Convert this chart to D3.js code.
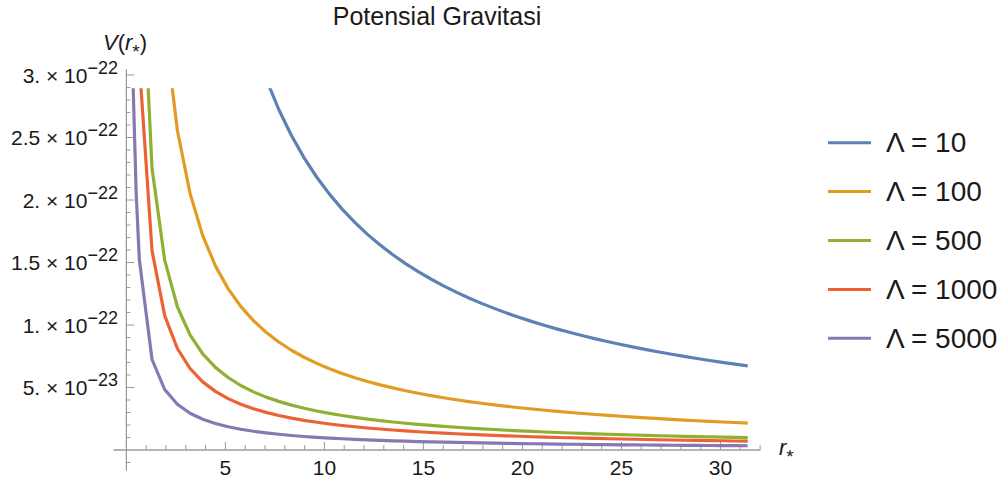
<!DOCTYPE html>
<html><head><meta charset="utf-8">
<script src="https://cdn.jsdelivr.net/npm/d3@7"></script>
<style>
body{margin:0;background:#fff}
text{font-family:"Liberation Sans",Arial,sans-serif;fill:#1a1a1a}
</style>
</head><body>
<svg id="chart" width="1004" height="484"></svg>
<script>
// r_* sample positions
const rGrid = [0.20,0.36,0.52,0.68,1.32,1.96,2.60,3.24,3.88,4.52,5.16,5.80,6.44,7.08,7.72,8.36,9.00,9.64,10.28,10.92,11.56,12.20,12.84,13.48,14.12,14.76,15.40,16.04,16.68,17.32,17.96,18.60,19.24,19.88,20.52,21.16,21.80,22.44,23.08,23.72,24.36,25.00,25.64,26.28,26.92,27.56,28.20,28.84,29.48,30.12,30.76,31.40];
// V(r_*) in units of 1e-22 (null = outside the plotted range)
const vLambda10 = [null,null,null,null,null,null,null,null,null,null,null,null,null,2.966,2.720,2.512,2.333,2.178,2.043,1.923,1.817,1.721,1.636,1.558,1.487,1.423,1.364,1.309,1.259,1.212,1.169,1.129,1.091,1.056,1.023,0.992,0.963,0.936,0.910,0.885,0.862,0.840,0.819,0.799,0.780,0.762,0.745,0.728,0.712,0.697,0.683,0.669];
const vLambda100 = [null,null,null,null,null,3.388,2.554,2.049,1.711,1.469,1.287,1.145,1.031,0.938,0.860,0.794,0.738,0.689,0.646,0.608,0.574,0.544,0.517,0.493,0.470,0.450,0.431,0.414,0.398,0.383,0.370,0.357,0.345,0.334,0.324,0.314,0.305,0.296,0.288,0.280,0.273,0.266,0.259,0.253,0.247,0.241,0.235,0.230,0.225,0.220,0.216,0.211];
const vLambda500 = [null,null,null,4.368,2.250,1.515,1.142,0.917,0.765,0.657,0.576,0.512,0.461,0.419,0.385,0.355,0.330,0.308,0.289,0.272,0.257,0.243,0.231,0.220,0.210,0.201,0.193,0.185,0.178,0.171,0.165,0.160,0.154,0.149,0.145,0.140,0.136,0.132,0.129,0.125,0.122,0.119,0.116,0.113,0.110,0.108,0.105,0.103,0.101,0.099,0.097,0.095];
const vLambda1000 = [null,null,null,3.088,1.591,1.071,0.808,0.648,0.541,0.465,0.407,0.362,0.326,0.297,0.272,0.251,0.233,0.218,0.204,0.192,0.182,0.172,0.164,0.156,0.149,0.142,0.136,0.131,0.126,0.121,0.117,0.113,0.109,0.106,0.102,0.099,0.096,0.094,0.091,0.089,0.086,0.084,0.082,0.080,0.078,0.076,0.074,0.073,0.071,0.070,0.068,0.067];
const vLambda5000 = [5.00,2.95,2.05,1.52,0.72,0.48,0.362,0.290,0.242,0.208,0.182,0.162,0.146,0.133,0.122,0.112,0.104,0.0975,0.0914,0.0861,0.0813,0.0770,0.0732,0.0697,0.0666,0.0637,0.0610,0.0586,0.0564,0.0543,0.0523,0.0505,0.0489,0.0473,0.0458,0.0444,0.0431,0.0419,0.0407,0.0396,0.0386,0.0376,0.0367,0.0358,0.0349,0.0341,0.0333,0.0326,0.0319,0.0312,0.0306,0.0299];

const seriesLabels = ["Λ = 10","Λ = 100","Λ = 500","Λ = 1000","Λ = 5000"];
const seriesColors = ["#5E81B5","#E19C24","#8FB032","#EB6235","#8778B3"];
const seriesValues = [vLambda10,vLambda100,vLambda500,vLambda1000,vLambda5000];

const xMajorTicks = [5,10,15,20,25,30];
const xMinorTicks = [1,2,3,4,6,7,8,9,11,12,13,14,16,17,18,19,21,22,23,24,26,27,28,29,31,32];
const yTickValues = [0.5,1,1.5,2,2.5,3];
const yTickMantissa = ["5.","1.","1.5","2.","2.5","3."];
const yTickExponent = ["−23","−22","−22","−22","−22","−22"];
const yMinorTicks = [-0.1,0.1,0.2,0.3,0.4,0.6,0.7,0.8,0.9,1.1,1.2,1.3,1.4,1.6,1.7,1.8,1.9,2.1,2.2,2.3,2.4,2.6,2.7,2.8,2.9];
const plotRangeMax = 2.89;

const svg = d3.select("#chart");
const x = d3.scaleLinear().domain([-0.65, 32.02]).range([113, 760]);
const y = d3.scaleLinear().domain([-0.164, 3.044]).range([470, 69]);
const axisColor = "#9a9a9a";

// title
svg.append("text").attr("x", 437).attr("y", 25).attr("text-anchor","middle")
  .style("font-size","25px").text("Potensial Gravitasi");

// x axis
const xAxisG = svg.append("g").attr("transform", `translate(0,${y(0)})`);
xAxisG.call(d3.axisBottom(x).tickValues(xMinorTicks).tickSizeInner(-4.5).tickSizeOuter(0).tickFormat(""));
const xMajG = svg.append("g").attr("transform", `translate(0,${y(0)})`);
xMajG.call(d3.axisBottom(x).tickValues(xMajorTicks).tickSizeInner(-7.5).tickSizeOuter(0).tickPadding(11).tickFormat(d3.format("d")));
[xAxisG, xMajG].forEach(g => {
  g.selectAll("path,line").attr("stroke", axisColor);
  g.selectAll("text").style("font-size","21px").attr("fill","#1a1a1a").attr("font-family",null);
});

// y axis
const yAxisG = svg.append("g").attr("transform", `translate(${x(0)},0)`);
yAxisG.call(d3.axisLeft(y).tickValues(yMinorTicks).tickSizeInner(-4.5).tickSizeOuter(0).tickFormat(""));
const yMajG = svg.append("g").attr("transform", `translate(${x(0)},0)`);
yMajG.call(d3.axisLeft(y).tickValues(yTickValues).tickSizeInner(-8.5).tickSizeOuter(0).tickFormat(""));
[yAxisG, yMajG].forEach(g => g.selectAll("path,line").attr("stroke", axisColor));

// y tick labels with superscripts
yTickValues.forEach((v, i) => {
  const t = svg.append("text").attr("x", 118).attr("y", y(v) + 8)
    .attr("text-anchor","end").style("font-size","21px");
  t.append("tspan").text(yTickMantissa[i] + " × 10");
  t.append("tspan").attr("dy", -9).style("font-size","18px").text(yTickExponent[i]);
});

// axis labels
const yl = svg.append("text").attr("x", 103).attr("y", 50).style("font-size","22px");
yl.append("tspan").style("font-style","italic").text("V");
yl.append("tspan").text("(");
yl.append("tspan").style("font-style","italic").text("r");
yl.append("tspan").attr("dy", 8).style("font-size","19px").text("*");
yl.append("tspan").attr("dy", -8).text(")");

const xl = svg.append("text").attr("x", 779).attr("y", 455).style("font-size","22px");
xl.append("tspan").style("font-style","italic").text("r");
xl.append("tspan").attr("dy", 8).style("font-size","19px").text("*");

// curves
svg.append("clipPath").attr("id","plotclip").append("rect")
  .attr("x", x(-0.65)).attr("y", y(plotRangeMax))
  .attr("width", x(32.02) - x(-0.65)).attr("height", y(-0.164) - y(plotRangeMax));

const line = d3.line()
  .defined(d => d[1] !== null)
  .x(d => x(d[0])).y(d => y(d[1]));

const curves = svg.append("g").attr("clip-path","url(#plotclip)");
seriesValues.forEach((vals, i) => {
  curves.append("path")
    .datum(rGrid.map((r, j) => [r, vals[j]]))
    .attr("d", line)
    .attr("fill","none")
    .attr("stroke", seriesColors[i])
    .attr("stroke-width", 3.2)
    .attr("stroke-linejoin","round");
});

// legend
const legend = svg.append("g");
seriesLabels.forEach((lab, i) => {
  const ly = 142.7 + i * 48.9;
  legend.append("line").attr("x1", 828).attr("x2", 871).attr("y1", ly).attr("y2", ly)
    .attr("stroke", seriesColors[i]).attr("stroke-width", 3);
  legend.append("text").attr("x", 886).attr("y", ly + 9.5).style("font-size","28px").text(lab);
});
</script>
</body></html>
